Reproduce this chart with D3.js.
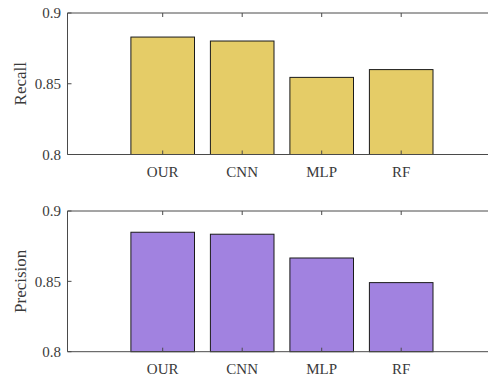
<!DOCTYPE html>
<html>
<head>
<meta charset="utf-8">
<script src="https://cdn.jsdelivr.net/npm/d3@7"></script>
<style>
  html, body { margin: 0; padding: 0; background: #fff; }
  svg { display: block; }
  text { font-family: "Times New Roman", "Liberation Serif", Tinos, serif; fill: #3a3a3a; }
</style>
</head>
<body>
<svg id="chart" width="488" height="379"></svg>
<script>
// Model names along the x axis
const categories = ["OUR", "CNN", "MLP", "RF"];
// Scores per model
const recall = [0.883, 0.8802, 0.8545, 0.8600];
const precision = [0.8849, 0.8835, 0.8666, 0.8491];
// Y axis ticks shared by both panels
const yTicks = [0.8, 0.85, 0.9];
const yTickLabels = ["0.8", "0.85", "0.9"];

const svg = d3.select("#chart");

const panels = [
  { label: "Recall", values: recall, top: 13, bottom: 154.5, fill: "#e5cc67" },
  { label: "Precision", values: precision, top: 211, bottom: 351.7, fill: "#a182e0" }
];

const axLeft = 67.5, axRight = 497;
const x = d3.scalePoint().domain(categories).range([162.7, 401.2]);
const step = x.step();
const barW = step * 0.8;
const tickLen = 4;
const axisColor = "#4a4a4a";

panels.forEach(p => {
  const y = d3.scaleLinear().domain([0.8, 0.9]).range([p.bottom, p.top]);
  const g = svg.append("g");

  // bars
  g.selectAll("rect.bar")
    .data(p.values)
    .join("rect")
    .attr("class", "bar")
    .attr("x", (d, i) => x(categories[i]) - barW / 2)
    .attr("y", d => y(d))
    .attr("width", barW)
    .attr("height", d => y(0.8) - y(d))
    .attr("fill", p.fill)
    .attr("stroke", "#1a1a1a")
    .attr("stroke-width", 1);

  // box lines (left, bottom, top)
  g.append("path")
    .attr("d", `M${axRight},${p.top}H${axLeft}V${p.bottom}H${axRight}`)
    .attr("fill", "none")
    .attr("stroke", axisColor)
    .attr("stroke-width", 1);

  // x ticks (inward, on bottom and top)
  categories.forEach(c => {
    g.append("line")
      .attr("x1", x(c)).attr("x2", x(c))
      .attr("y1", p.bottom).attr("y2", p.bottom - tickLen)
      .attr("stroke", axisColor);
    g.append("line")
      .attr("x1", x(c)).attr("x2", x(c))
      .attr("y1", p.top).attr("y2", p.top + tickLen)
      .attr("stroke", axisColor);
  });

  // x tick labels
  g.selectAll("text.xl")
    .data(categories)
    .join("text")
    .attr("class", "xl")
    .attr("x", d => x(d))
    .attr("y", p.bottom + 22.5)
    .attr("text-anchor", "middle")
    .attr("font-size", 15)
    .text(d => d);

  // y ticks (inward) and labels
  yTicks.forEach((t, i) => {
    g.append("line")
      .attr("x1", axLeft).attr("x2", axLeft + tickLen)
      .attr("y1", y(t)).attr("y2", y(t))
      .attr("stroke", axisColor);
    g.append("text")
      .attr("x", axLeft - 6.5)
      .attr("y", y(t))
      .attr("dy", "0.35em")
      .attr("text-anchor", "end")
      .attr("font-size", 15)
      .text(yTickLabels[i]);
  });

  // y axis title
  g.append("text")
    .attr("transform", `translate(26,${(p.top + p.bottom) / 2}) rotate(-90)`)
    .attr("text-anchor", "middle")
    .attr("font-size", 17)
    .text(p.label);
});
</script>
</body>
</html>
